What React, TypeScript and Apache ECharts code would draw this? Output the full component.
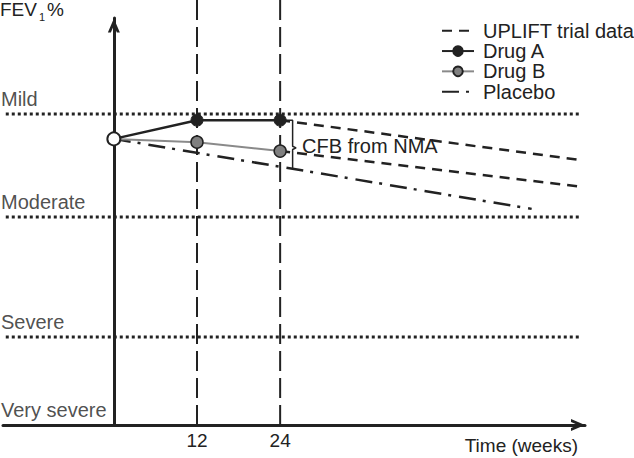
import React, { useEffect, useRef } from 'react';
import * as echarts from 'echarts';

const FONT = '"Liberation Sans", Arial, Helvetica, sans-serif';
const INK = '#222222';

// x axis: time in weeks; y axis: FEV1% (schematic units)
const xRange = [-16, 68];
const yRange = [0, 100];
const timeTicks = [12, 24];
const guideRange = [-0.7, 104.4];

const studyWeeks = [0, 12, 24];
const baselineValue = 70.3;
const drugA = [70.3, 74.9, 74.9];
const drugB = [70.3, 69.5, 67.3];

const placeboWeeks = [0, 60.3];
const placebo = [70.3, 53.1];

const upliftUpperWeeks = [24, 67.3];
const upliftUpper = [74.9, 65.1];
const upliftLowerWeeks = [24, 67.6];
const upliftLower = [67.3, 58.5];

const levelNames = ['Very severe', 'Severe', 'Moderate', 'Mild'];
const levelValues = [0, 21.6, 51.1, 76.4];
const levelLineWeeks = [-15.6, 67.4];

const bracketWeeks = [24, 25.8, 25.8, 26.3, 25.8, 25.8];
const bracketValues = [74.9, 74.9, 68.5, 68.1, 67.7, 62.9];
const annotationText = 'CFB from NMA';
const annotationPoint = [26.3, 68.6];

const legendNames = ['UPLIFT trial data', 'Drug A', 'Drug B', 'Placebo'];
const legendNoMarker = ['UPLIFT trial data', 'Placebo'];

const ARROW = 'path://M0,14 L6,0 L12,14 L9,14 L6,7 L3,14 Z';

const pairs = (xs: number[], ys: number[]) => xs.map((x, i) => [x, ys[i]]);

function buildOption(): any {
  const thresholdSeries = levelValues
    .filter((v) => v > 0)
    .map((v) => ({
      type: 'line',
      silent: true,
      symbol: 'none',
      z: 1,
      data: [
        [levelLineWeeks[0], v],
        [levelLineWeeks[1], v],
      ],
      lineStyle: { color: INK, width: 3, type: [3, 3] },
    }));

  const guideSeries = timeTicks.map((t) => ({
    type: 'line',
    silent: true,
    symbol: 'none',
    clip: false,
    z: 1,
    data: [
      [t, guideRange[1]],
      [t, guideRange[0]],
    ],
    lineStyle: { color: INK, width: 2, type: [20, 7] },
  }));

  const drugData = (vals: number[]) =>
    studyWeeks.map((w, i) => (i === 0 ? { value: [w, vals[i]], symbol: 'none' } : [w, vals[i]]));

  return {
    animation: false,
    textStyle: { fontFamily: FONT },
    grid: { left: 3, right: 49, top: 18, bottom: 33, containLabel: false, outerBoundsMode: 'none' },
    xAxis: {
      type: 'value',
      min: xRange[0],
      max: xRange[1],
      splitLine: { show: false },
      axisTick: { show: false },
      axisLine: {
        show: true,
        onZero: true,
        symbol: ['none', ARROW],
        symbolSize: [12, 14],
        symbolOffset: [0, -7],
        lineStyle: { color: INK, width: 3 },
      },
      axisLabel: {
        customValues: timeTicks,
        fontSize: 19,
        fontFamily: FONT,
        color: INK,
        margin: 6,
      },
      name: 'Time (weeks)',
      nameLocation: 'end',
      nameGap: -7,
      nameTextStyle: {
        fontSize: 19,
        fontFamily: FONT,
        color: INK,
        align: 'right',
        verticalAlign: 'top',
        padding: [11, 0, 0, 0],
      },
    },
    yAxis: {
      type: 'value',
      min: yRange[0],
      max: yRange[1],
      splitLine: { show: false },
      axisTick: { show: false },
      axisLabel: { show: false },
      axisLine: {
        show: true,
        onZero: true,
        symbol: ['none', ARROW],
        symbolSize: [12, 15],
        symbolOffset: [0, -7.5],
        lineStyle: { color: INK, width: 3 },
      },
    },
    legend: {
      data: legendNames.map((n) =>
        legendNoMarker.includes(n) ? { name: n, itemStyle: { opacity: 0 } } : { name: n }
      ),
      orient: 'vertical',
      left: 441,
      top: 20.6,
      padding: 0,
      itemGap: 0,
      itemWidth: 32,
      itemHeight: 12,
      selectedMode: false,
      textStyle: {
        fontSize: 20,
        fontFamily: FONT,
        color: INK,
        lineHeight: 20.3,
        padding: [0, 0, 0, 4],
      },
    },
    graphic: [
      { type: 'text', x: 0, y: 0, silent: true, style: { text: 'FEV', fontSize: 19, fontFamily: FONT, fill: INK } },
      { type: 'text', x: 39, y: 11, silent: true, style: { text: '1', fontSize: 11, fontFamily: FONT, fill: INK } },
      { type: 'text', x: 47, y: 0, silent: true, style: { text: '%', fontSize: 19, fontFamily: FONT, fill: INK } },
    ],
    series: [
      ...thresholdSeries,
      ...guideSeries,
      {
        type: 'scatter',
        silent: true,
        clip: false,
        z: 6,
        symbolSize: 0.01,
        data: levelValues.map((v, i) => ({ value: [xRange[0], v], name: levelNames[i] })),
        itemStyle: { color: INK },
        label: {
          show: true,
          position: [-2, -5],
          align: 'left',
          verticalAlign: 'bottom',
          formatter: (p: any) => p.name,
          fontSize: 20,
          fontFamily: FONT,
          color: INK,
        },
      },
      {
        name: 'Placebo',
        type: 'line',
        silent: true,
        symbol: 'none',
        z: 2,
        data: pairs(placeboWeeks, placebo),
        lineStyle: { color: INK, width: 2.5, type: [17, 7, 3, 8] },
        itemStyle: { color: INK },
      },
      {
        name: 'UPLIFT trial data',
        type: 'line',
        silent: true,
        symbol: 'none',
        z: 2,
        data: pairs(upliftUpperWeeks, upliftUpper),
        lineStyle: { color: INK, width: 2.5, type: [10, 7] },
        itemStyle: { color: INK },
      },
      {
        name: 'UPLIFT trial data',
        type: 'line',
        silent: true,
        symbol: 'none',
        z: 2,
        data: pairs(upliftLowerWeeks, upliftLower),
        lineStyle: { color: INK, width: 2.5, type: [10, 7] },
        itemStyle: { color: INK },
      },
      {
        name: 'Drug B',
        type: 'line',
        silent: true,
        symbol: 'circle',
        symbolSize: 12,
        z: 3,
        data: drugData(drugB),
        lineStyle: { color: '#8a8a8a', width: 2 },
        itemStyle: { color: '#808080', borderColor: INK, borderWidth: 1.5 },
      },
      {
        name: 'Drug A',
        type: 'line',
        silent: true,
        symbol: 'circle',
        symbolSize: 12,
        z: 4,
        data: drugData(drugA),
        lineStyle: { color: INK, width: 2.5 },
        itemStyle: { color: INK, borderColor: INK, borderWidth: 1 },
      },
      {
        type: 'line',
        silent: true,
        symbol: 'none',
        z: 3,
        data: pairs(bracketWeeks, bracketValues),
        lineStyle: { color: INK, width: 1.5 },
      },
      {
        type: 'scatter',
        silent: true,
        z: 6,
        symbolSize: 13,
        data: [[studyWeeks[0], baselineValue]],
        itemStyle: { color: '#ffffff', borderColor: INK, borderWidth: 2, opacity: 1 },
      },
      {
        type: 'scatter',
        silent: true,
        z: 6,
        symbolSize: 0.01,
        data: [annotationPoint],
        itemStyle: { color: INK },
        label: {
          show: true,
          position: 'right',
          distance: 6,
          formatter: annotationText,
          fontSize: 20,
          fontFamily: FONT,
          color: INK,
          opacity: 1,
        },
      },
    ],
  };
}

export default function App() {
  const ref = useRef<HTMLDivElement>(null);
  useEffect(() => {
    if (!ref.current) return;
    const chart = echarts.init(ref.current, null, { renderer: 'svg' });
    chart.setOption(buildOption());
    return () => chart.dispose();
  }, []);
  return (
    <div
      ref={ref}
      style={{ position: 'fixed', left: 0, top: 0, width: 634, height: 458, background: '#ffffff' }}
    />
  );
}
